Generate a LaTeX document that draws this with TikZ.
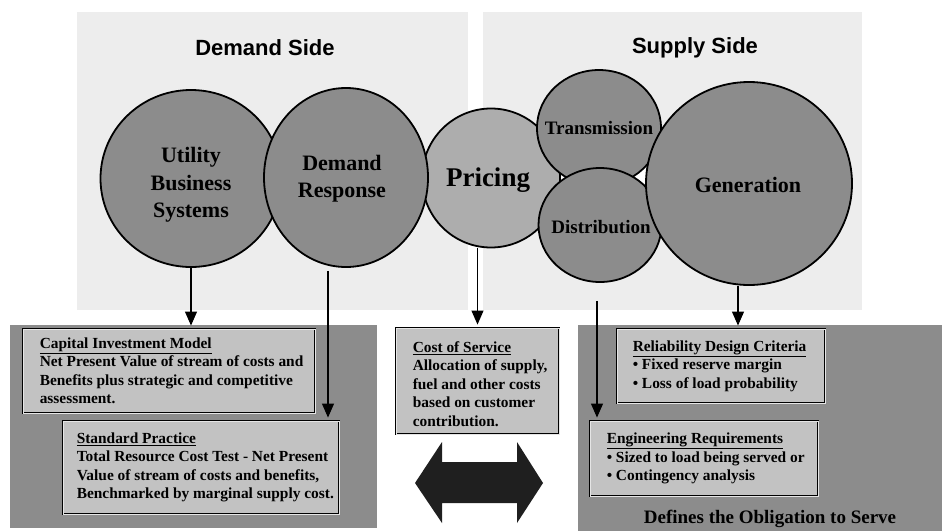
\documentclass[tikz,border=0pt]{standalone}
\usepackage{fontspec}
\setmainfont{Liberation Serif}
\newfontfamily\headfont{Liberation Sans}
\usetikzlibrary{shapes.geometric,arrows.meta,calc}

\definecolor{stipple}{gray}{0.93}
\definecolor{bubblegray}{gray}{0.55}
\definecolor{pricegray}{gray}{0.68}
\definecolor{panelgray}{gray}{0.55}
\definecolor{boxgray}{gray}{0.76}
\definecolor{arrowblack}{gray}{0.12}

\begin{document}
\begin{tikzpicture}[x=1pt,y=-1pt,
  bubble/.style={ellipse, draw=black, line width=1.8pt, fill=bubblegray,
    inner sep=0pt, align=center,
    font=\bfseries\fontsize{22}{27}\selectfont},
  smallbubble/.style={bubble, font=\bfseries\fontsize{19}{23}\selectfont},
  infobox/.style={rectangle, draw=black, line width=0.9pt, double=white!80!gray,
    double distance=0.7pt, fill=boxgray, inner sep=0pt},
  infotext/.style={anchor=west, inner sep=0pt, align=left,
    font=\bfseries\fontsize{15.4}{18.5}\selectfont},
  headtext/.style={font=\headfont\bfseries\fontsize{22}{26}\selectfont},
  flow/.style={line width=1.1pt, shorten >=3pt,
    -{Triangle[width=12pt,length=14pt]}},
]
\useasboundingbox (0,0) rectangle (942,531);

% light background panels
\fill[stipple] (77,12) rectangle (468,310);
\fill[stipple] (483,12) rectangle (862,310);

% darker lower panels
\fill[panelgray] (10,325) rectangle (377,528);
\fill[panelgray] (578,325) rectangle (942,531);

\node[headtext] (dside) at (265,48) {Demand Side};
\node[headtext] (sside) at (695,48) {Supply Side};

% white showing through where three bubbles nearly meet
\fill[white] (548,160) rectangle (656,190);

% the six bubbles
\node[bubble, fill=pricegray, minimum width=138pt, minimum height=139pt]
  (pr) at (491,178) {};
\node[bubble, minimum width=181pt, minimum height=177pt] (ubs) at (191,178.5) {};
\node[bubble, minimum width=164pt, minimum height=179pt] (dr) at (346,177.5) {};
\node[smallbubble, minimum width=124pt, minimum height=116pt] (tr) at (599,128) {};
\node[smallbubble, minimum width=123pt, minimum height=114pt] (di) at (600,225) {};
\node[bubble, minimum width=206pt, minimum height=203pt] (gen) at (749,183.5) {};

% bubble labels
\node[font=\bfseries\fontsize{22}{27.5}\selectfont, align=center] (ubslbl)
  at (191,185) {Utility\\Business\\Systems};
\node[font=\bfseries\fontsize{22}{27}\selectfont, align=center] (drlbl)
  at (342,179) {Demand\\Response};
\node[font=\bfseries\fontsize{27}{30}\selectfont] (prlbl) at (488,180) {Pricing};
\node[font=\bfseries\fontsize{19}{23}\selectfont] (trlbl) at (599,128) {Transmission};
\node[font=\bfseries\fontsize{19}{23}\selectfont] (dilbl) at (601,227) {Distribution};
\node[font=\bfseries\fontsize{22}{27}\selectfont] (genlbl) at (748,185) {Generation};

% information boxes
\node[infobox, minimum width=292pt, minimum height=84pt] (cap) at (169,371) {};
\node[infotext] (captxt) at ([xshift=17pt]cap.west)
  {\underline{Capital Investment Model}\\
   Net Present Value of stream of costs and\\
   Benefits plus strategic and competitive\\
   assessment.};

\node[infobox, minimum width=276pt, minimum height=93pt] (std) at (201,467.5) {};
\node[infotext] (stdtxt) at ([xshift=14pt]std.west)
  {\underline{Standard Practice}\\
   Total Resource Cost Test - Net Present\\
   Value of stream of costs and benefits,\\
   Benchmarked by marginal supply cost.};

\node[infobox, minimum width=163pt, minimum height=106pt] (cos) at (477.5,381) {};
\node[infotext] (costxt) at ([xshift=17pt,yshift=-3pt]cos.west)
  {\underline{Cost of Service}\\
   Allocation of supply,\\
   fuel and other costs\\
   based on customer\\
   contribution.};

\node[infobox, minimum width=208pt, minimum height=74pt] (rel) at (721,366) {};
\node[infotext] (reltxt) at ([xshift=16pt]rel.west)
  {\underline{Reliability Design Criteria}\\
   \textbullet\ Fixed reserve margin\\
   \textbullet\ Loss of load probability};

\node[infobox, minimum width=228pt, minimum height=75pt] (eng) at (704,458.5) {};
\node[infotext] (engtxt) at ([xshift=17pt]eng.west)
  {\underline{Engineering Requirements}\\
   \textbullet\ Sized to load being served or\\
   \textbullet\ Contingency analysis};

\node[font=\bfseries\fontsize{19}{23}\selectfont] (oblig) at (770,519)
  {Defines the Obligation to Serve};

% connectors from the bubbles to the boxes
\coordinate (drfoot) at ([xshift=-18pt,yshift=-3pt]dr.south);
\coordinate (genfoot) at ([xshift=-11pt]gen.south);
\coordinate (difoot) at ([xshift=-3pt,yshift=-18pt]di.south);

\draw[flow] (ubs.south) -- (ubs.south |- cap.north);
\draw[flow] (drfoot) -- (drfoot |- std.north);
\draw[flow] (cos.north |- pr.south) -- (cos.north);
\draw[flow] (difoot) -- (difoot |- eng.north);
\draw[flow] (genfoot) -- (genfoot |- rel.north);

% two-headed arrow between demand and supply
\fill[arrowblack] (415,483) -- (442,442) -- (442,462) -- (517,462)
  -- (517,442) -- (543,483) -- (517,523) -- (517,503) -- (442,503)
  -- (442,523) -- cycle;
\end{tikzpicture}
\end{document}
